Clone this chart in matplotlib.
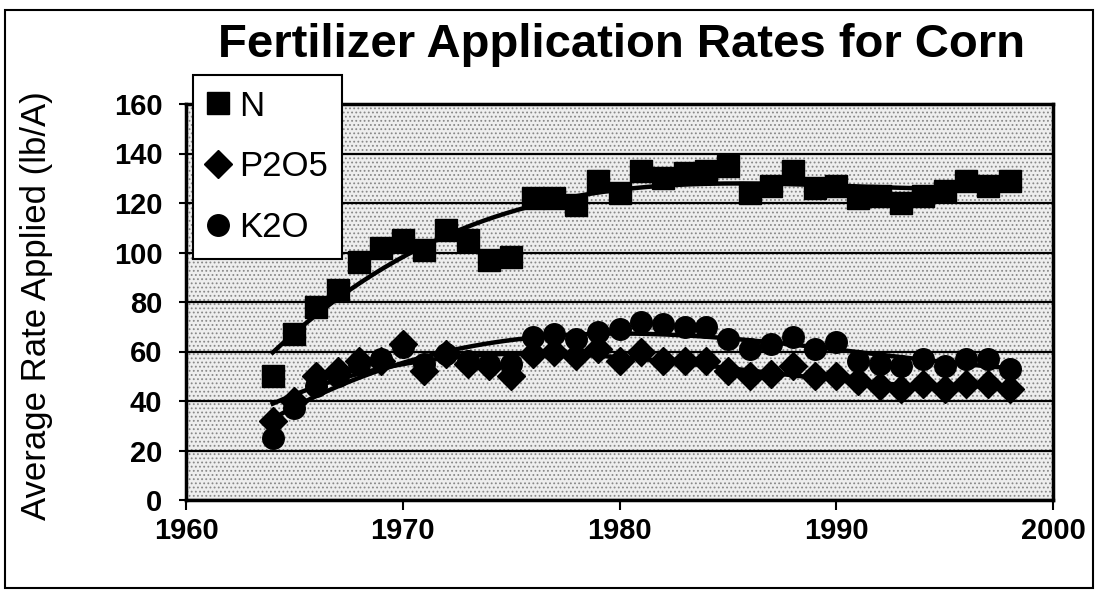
import numpy as np
import matplotlib.pyplot as plt
from matplotlib.patches import Rectangle

years = list(range(1964, 1999))

nitrogen = [50, 67, 78, 85, 96, 102, 105, 101, 109, 105, 97, 98,
            122, 122, 119, 129, 124, 133, 130, 132, 133, 135,
            124, 127, 133, 126, 127, 122, 123, 120, 123, 125, 129, 127, 129]
phosphate = [32, 40, 50, 52, 56, 56, 63, 52, 59, 55, 54, 50,
             59, 60, 58, 61, 56, 60, 56, 56, 56, 52,
             50, 51, 54, 50, 50, 48, 46, 45, 47, 45, 47, 47, 45]
potash = [25, 37, 46, 50, 55, 57, 62, 55, 59, 56, 55, 55,
          66, 67, 65, 68, 69, 72, 71, 70, 70, 65,
          61, 63, 66, 61, 64, 56, 55, 54, 57, 54, 57, 57, 53]

series = [("N", nitrogen, "s"), ("P2O5", phosphate, "D"), ("K2O", potash, "o")]

plt.rcParams['font.family'] = ['Liberation Sans', 'DejaVu Sans']
plt.rcParams['hatch.linewidth'] = 0.8

fig = plt.figure(figsize=(10.98, 5.91), dpi=100)
ax = fig.add_axes([186 / 1098, 1 - 500 / 591, (1053 - 186) / 1098, (500 - 104) / 591])
ax.set_facecolor('#eeeeee')
# halftone-ish dotted fill of the plot area
ax.patch.set_edgecolor('#888888')
ax.patch.set_hatch('....')

x = np.array(years, dtype=float)
handles = []
for name, vals, mk in series:
    ms = 15.5 if mk != "D" else 14
    h, = ax.plot(years, vals, linestyle='none', marker=mk, markersize=ms,
                 color='black', markeredgecolor='black', label=name, zorder=4)
    handles.append(h)
    # trendline like the spreadsheet's polynomial fit
    coef = np.polyfit(x - 1960, vals, 3)
    xs = np.linspace(x[0], x[-1], 200)
    ax.plot(xs, np.polyval(coef, xs - 1960), color='black', lw=3.2, zorder=3)

ax.set_xlim(1960, 2000)
ax.set_ylim(0, 160)
ax.set_xticks(range(1960, 2001, 10))
ax.set_yticks(range(0, 161, 20))
ax.yaxis.grid(True, color='black', lw=1.6)
ax.set_axisbelow(True)
for s in ax.spines.values():
    s.set_linewidth(2.5)
ax.tick_params(axis='x', direction='out', length=7, width=1.5, pad=5)
ax.tick_params(axis='y', direction='out', length=5, width=1.5, pad=12)
for lab in ax.get_xticklabels() + ax.get_yticklabels():
    lab.set_fontsize(21)
    lab.set_fontweight('bold')

ax.set_ylabel("Average Rate Applied (lb/A)", fontsize=25)
ax.yaxis.set_label_coords(-0.153, 0.49)

fig.text(0.566, 0.924, "Fertilizer Application Rates for Corn",
         fontsize=34, fontweight='bold', ha='center', va='center')

leg = fig.legend(handles=handles, loc='upper left',
                 bbox_to_anchor=(193 / 1098, 1 - 75 / 591), borderaxespad=0,
                 fontsize=25, frameon=True, fancybox=False,
                 edgecolor='black', framealpha=1, handlelength=0.6,
                 handletextpad=0.3, labelspacing=0.8, borderpad=0.42)
leg.get_frame().set_linewidth(1.5)
leg.set_zorder(10)

fig.patches.append(Rectangle((0.005, 0.005), 0.99, 0.978, transform=fig.transFigure,
                             fill=False, edgecolor='black', lw=1.5))

fig.savefig("out.png", dpi=100)
